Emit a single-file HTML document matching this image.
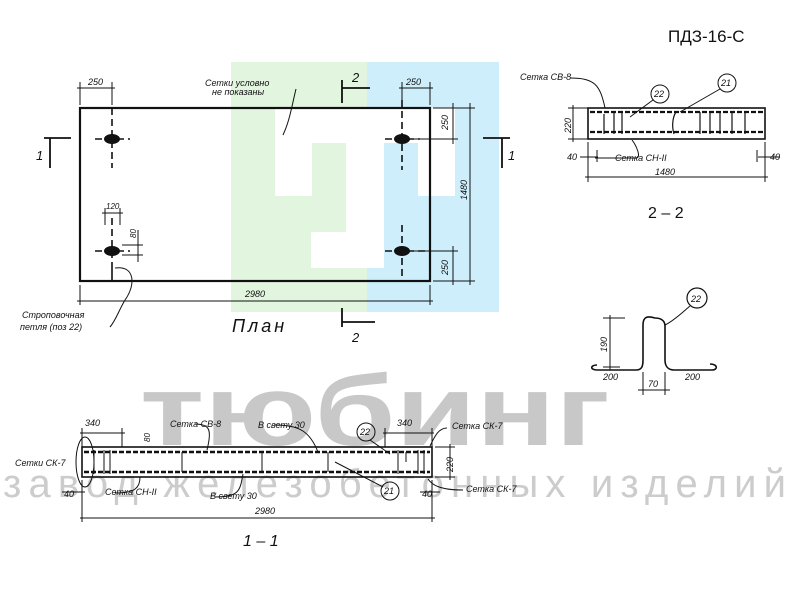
<!DOCTYPE html>
<html><head><meta charset="utf-8"><style>
html,body{margin:0;padding:0;background:#fff;}
svg{display:block;}
text{font-family:"Liberation Sans",sans-serif;font-style:italic;fill:#111;}
</style></head><body>
<svg width="790" height="593" viewBox="0 0 790 593" xmlns="http://www.w3.org/2000/svg">
<rect x="231" y="62" width="136" height="250" fill="#e2f5df"/>
<rect x="367" y="62" width="132" height="250" fill="#cdeefa"/>
<path d="M275 108 H455 V196 H418 V143 H384 V268 H311 V232 H346 V143 H312 V196 H275 Z" fill="#fff"/>

<text x="668" y="42" style="font-style:normal;font-size:17px">ПДЗ-16-С</text>

<g stroke="#111" fill="none" stroke-width="1">
<rect x="80" y="108" width="350" height="173" stroke-width="2.2"/>
<path d="M80 82V105M112 82V105M77 88H115"/>
<path d="M402 82V100M430 82V105M399 88H433"/>
<path d="M80 285V305M430 285V305M77 301H433"/>
<path d="M433 108H475M433 281H475M470 103V285M402 139H458M402 251H458M453 103V144M453 246V285"/>
<path d="M105 208V225M120 208V225M102 213H123M122 245H143M122 255H143M138 230V262"/>
<path d="M112 108V168M112 218V262M402 100V170M402 225V281M95 139H130M95 251H130M385 139H420M385 251H425" stroke-dasharray="7,4" stroke-width="1.6"/>
<path d="M112 262V281" stroke-width="1.6"/>
<path d="M44 138H71M50 138V168M483 138H510M502 138V168M342 80V103M342 88H370M342 308V327M342 322H375" stroke-width="1.8"/>
<path d="M296 89C292 105 290 120 283 135"/>
<path d="M115 268C135 265 136 285 125 300C118 312 116 320 110 327"/>
</g>
<g fill="#111">
<ellipse cx="112" cy="139" rx="8" ry="5"/><ellipse cx="112" cy="251" rx="8" ry="5"/>
<ellipse cx="402" cy="139" rx="8" ry="5"/><ellipse cx="402" cy="251" rx="8" ry="5"/>
</g>
<g font-size="9">
<text x="88" y="85">250</text><text x="406" y="85">250</text>
<text x="245" y="297">2980</text>
<text x="106" y="209" font-size="8">120</text>
<text transform="translate(136 238) rotate(-90)" font-size="8">80</text>
<text transform="translate(448 130) rotate(-90)">250</text>
<text transform="translate(448 275) rotate(-90)">250</text>
<text transform="translate(467 200) rotate(-90)">1480</text>
<text x="205" y="86">Сетки условно</text>
<text x="212" y="95">не показаны</text>
<text x="22" y="318">Строповочная</text>
<text x="20" y="330">петля (поз 22)</text>
</g>
<text x="36" y="160" font-size="13">1</text><text x="508" y="160" font-size="13">1</text>
<text x="352" y="82" font-size="13">2</text><text x="352" y="342" font-size="13">2</text>
<text x="232" y="332" font-size="18" letter-spacing="3">План</text>

<g stroke="#111" fill="none">
<rect x="588" y="108" width="177" height="31" stroke-width="1.6"/>
<path d="M590 112H763M590 132H763" stroke-width="2.2" stroke-dasharray="5,2"/>
<path d="M604 114V134M614 112V134M622 112V134M700 112V134M710 112V134M720 112V134M732 112V134M745 112V134M676 112C672 118 672 128 674 134" stroke-width="1.2"/>
<path d="M568 108H590M568 139H590M573 105V142M588 142V182M765 142V182M585 177H768M580 157H598M758 157H780M597 150V162M757 150V162"/>
<path d="M570 78C595 78 600 85 605 108M595 158H636C642 158 636 145 632 140M653 100L630 117M720 89L680 112"/>
<circle cx="660" cy="94" r="9"/><circle cx="727" cy="83" r="9"/>
</g>
<g font-size="9">
<text x="520" y="80">Сетка СВ-8</text>
<text x="615" y="161">Сетка СН-II</text>
<text x="655" y="175">1480</text>
<text x="567" y="160">40</text><text x="770" y="160">40</text>
<text transform="translate(571 133) rotate(-90)">220</text>
<text x="654" y="97">22</text><text x="721" y="86">21</text>
</g>
<text x="648" y="218" font-size="16" style="font-style:normal">2 – 2</text>

<g stroke="#111" fill="none" stroke-width="1.6">
<path d="M597 365C590 365 590 370 597 370H636C642 370 643 366 643 360V325C643 316 648 316 655 318C660 318 665 320 665 326V360C665 366 668 370 674 370H712C718 370 718 364 710 364"/>
<path d="M665 325C675 320 685 310 690 306" stroke-width="1"/>
<circle cx="697" cy="298" r="10" stroke-width="1.2"/>
<path d="M603 318H625M603 367H620M610 315V370M643 372V395M665 372V395M638 390H670" stroke-width="1"/>
</g>
<g font-size="9">
<text x="691" y="302">22</text>
<text transform="translate(607 352) rotate(-90)">190</text>
<text x="603" y="380">200</text><text x="685" y="380">200</text><text x="648" y="387">70</text>
</g>

<text x="140" y="445" font-size="100" font-weight="bold" style="font-style:normal;fill:#bbb" opacity="0.8" textLength="470" lengthAdjust="spacingAndGlyphs">тюбинг</text>
<text x="3" y="497" font-size="40" style="font-style:normal;fill:#c4c4c4" opacity="0.85" textLength="783">завод железобетонных изделий</text>

<g stroke="#111" fill="none">
<rect x="82" y="447" width="350" height="30" stroke-width="1.6"/>
<path d="M84 452H430M84 472H430" stroke-width="2.4" stroke-dasharray="5,2"/>
<path d="M94 450V474M104 450V474M110 450V474M182 452V472M262 452V472M328 452V472M418 450V474M424 450V474M398 450V474M406 452V462" stroke-width="1"/>
<path d="M82 428V447M122 428V447M80 433H125M385 428V447M432 428V447M383 433H434M435 447H455M435 477H455M450 444V480M82 480V522M432 480V522M80 518H435M62 492H85M420 492H440"/>
<path d="M195 424C210 424 212 430 207 450M275 425C300 425 310 432 318 452M215 497C240 497 240 490 243 474M115 493C135 493 140 488 140 477M370 440L390 454M383 487L335 462M447 428C438 428 434 438 430 446M463 490C440 490 432 485 428 479"/>
<ellipse cx="85" cy="462" rx="9" ry="25"/>
<circle cx="366" cy="432" r="9"/><circle cx="390" cy="491" r="9"/>
</g>
<g font-size="9">
<text x="85" y="426">340</text><text x="397" y="426">340</text>
<text x="170" y="427">Сетка СВ-8</text>
<text x="258" y="428">В свету 30</text>
<text x="452" y="429">Сетка СК-7</text>
<text x="15" y="466">Сетки СК-7</text>
<text x="105" y="495">Сетка СН-II</text>
<text x="210" y="499">В свету 30</text>
<text x="466" y="492">Сетка СК-7</text>
<text x="64" y="497">40</text><text x="422" y="497">40</text>
<text x="255" y="514">2980</text>
<text transform="translate(453 472) rotate(-90)">220</text>
<text transform="translate(150 442) rotate(-90)" font-size="8">80</text>
<text x="360" y="435">22</text><text x="384" y="494">21</text>
</g>
<text x="243" y="546" font-size="16">1 – 1</text>
</svg>
</body></html>
